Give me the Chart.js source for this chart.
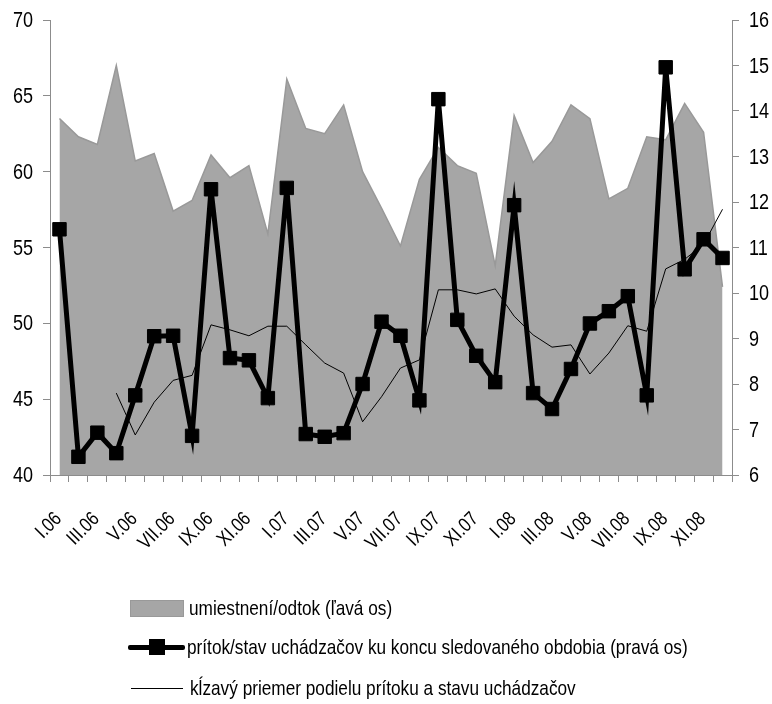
<!DOCTYPE html>
<html>
<head>
<meta charset="utf-8">
<script src="https://cdn.jsdelivr.net/npm/chart.js@4.4.1/dist/chart.umd.min.js"></script>
<style>
  html, body { margin: 0; padding: 0; background: #fff; }
  #wrap { position: relative; width: 772px; height: 704px; }
  #c { position: absolute; left: 0; top: 0; }
  .lg { position: absolute; font-family: 'Liberation Sans', Arial, sans-serif; font-size: 21px; color: #000; white-space: nowrap; line-height: 22px; transform: scaleX(0.82); transform-origin: 0 50%; }
  .sym { position: absolute; }
</style>
</head>
<body>
<div id="wrap">
  <canvas id="c" width="772" height="704"></canvas>
  <div class="sym" style="left:130px;top:600px;width:52px;height:15px;background:#a6a6a6;border:1px solid #999;"></div>
  <div class="lg" style="left:189px;top:597px;">umiestnení/odtok (ľavá os)</div>
  <div class="sym" style="left:128px;top:645px;width:57px;height:5px;background:#000;border-radius:2px;"></div>
  <div class="sym" style="left:149px;top:639px;width:16px;height:16px;background:#000;"></div>
  <div class="lg" style="left:187px;top:636px;">prítok/stav uchádzačov ku koncu sledovaného obdobia (pravá os)</div>
  <div class="sym" style="left:131px;top:688px;width:52px;height:1px;background:#000;"></div>
  <div class="lg" style="left:190px;top:677px;">kĺzavý priemer podielu prítoku a stavu uchádzačov</div>
</div>
<script>
const months = ['I.06','II.06','III.06','IV.06','V.06','VI.06','VII.06','VIII.06','IX.06','X.06','XI.06','XII.06',
                'I.07','II.07','III.07','IV.07','V.07','VI.07','VII.07','VIII.07','IX.07','X.07','XI.07','XII.07',
                'I.08','II.08','III.08','IV.08','V.08','VI.08','VII.08','VIII.08','IX.08','X.08','XI.08','XII.08'];
const placementOutflow = [63.5, 62.3, 61.8, 67.0, 60.7, 61.2, 57.4, 58.1, 61.1, 59.6, 60.4, 55.9,
                          66.1, 62.85, 62.5, 64.4, 60.0, 57.6, 55.1, 59.5, 61.6, 60.4, 59.9, 53.8,
                          63.7, 60.6, 62.0, 64.4, 63.5, 58.2, 58.9, 62.3, 62.1, 64.5, 62.6, 52.4];
const inflowStock = [11.40, 6.40, 6.93, 6.48, 7.75, 9.05, 9.06, 6.86, 12.28, 8.57, 8.52, 7.69,
                     12.31, 6.90, 6.84, 6.92, 8.00, 9.37, 9.06, 7.64, 14.26, 9.41, 8.62, 8.04,
                     11.93, 7.80, 7.45, 8.33, 9.33, 9.60, 9.93, 7.75, 14.96, 10.52, 11.18, 10.77];
const movingAverage = [null, null, null, 7.80, 6.88, 7.60, 8.08, 8.19, 9.30, 9.19, 9.06, 9.27,
                       9.27, 8.86, 8.46, 8.24, 7.17, 7.72, 8.35, 8.53, 10.07, 10.07, 9.98, 10.09,
                       9.49, 9.08, 8.81, 8.86, 8.22, 8.68, 9.28, 9.16, 10.53, 10.74, 11.07, 11.84];
const leftTicks = [40, 45, 50, 55, 60, 65, 70];
const rightTicks = [6, 7, 8, 9, 10, 11, 12, 13, 14, 15, 16];
const seriesNames = ['umiestnení/odtok (ľavá os)',
                     'prítok/stav uchádzačov ku koncu sledovaného obdobia (pravá os)',
                     'kĺzavý priemer podielu prítoku a stavu uchádzačov'];

const FONT = "'Liberation Sans', Arial, sans-serif";
const AXIS = '#8c8c8c';
const NARROW = 0.82;

// Draws tick labels in a condensed (Arial Narrow-like) style using the chart's own scales.
const narrowLabels = {
  id: 'narrowLabels',
  afterDraw(chart) {
    const ctx = chart.ctx;
    const put = (txt, x, y, align, rot, size) => {
      ctx.save();
      ctx.translate(x, y);
      if (rot) ctx.rotate(rot);
      ctx.scale(NARROW, 1);
      ctx.font = size + 'px ' + FONT;
      ctx.fillStyle = '#000';
      ctx.textAlign = align;
      ctx.textBaseline = 'middle';
      ctx.fillText(txt, 0, 0);
      ctx.restore();
    };
    const y = chart.scales.y, y2 = chart.scales.y2, x = chart.scales.x;
    y.ticks.forEach(t => put(String(t.value), y.right - 17, y.getPixelForValue(t.value) + 1, 'right', 0, 22));
    y2.ticks.forEach(t => put(String(t.value), y2.left + 17, y2.getPixelForValue(t.value) + 1, 'left', 0, 22));
    months.forEach((m, i) => {
      if (i % 2 !== 0) return;
      put(m, x.getPixelForValue(i) - 1, x.top + 41, 'right', -Math.PI / 4, 20);
    });
  }
};

new Chart(document.getElementById('c'), {
  type: 'line',
  data: {
    labels: months,
    datasets: [
      {
        label: seriesNames[2], data: movingAverage, yAxisID: 'y2',
        borderColor: '#000', borderWidth: 1, pointRadius: 0, tension: 0, fill: false, order: 2, spanGaps: false
      },
      {
        label: seriesNames[1], data: inflowStock, yAxisID: 'y2',
        borderColor: '#000', borderWidth: 5, pointStyle: 'rect', pointRadius: 9.5,
        pointBackgroundColor: '#000', pointBorderColor: '#000', pointBorderWidth: 1,
        tension: 0, fill: false, order: 1
      },
      {
        label: seriesNames[0], data: placementOutflow, yAxisID: 'y',
        borderColor: '#999999', borderWidth: 1.5, backgroundColor: '#a6a6a6',
        pointRadius: 0, tension: 0, fill: 'start', order: 3
      }
    ]
  },
  plugins: [narrowLabels],
  options: {
    responsive: false,
    animation: false,
    events: [],
    layout: { padding: { top: 20, left: 0, right: 0, bottom: 0 } },
    plugins: { legend: { display: false }, tooltip: { enabled: false } },
    scales: {
      x: {
        type: 'category', offset: true,
        grid: { display: true, drawOnChartArea: false, drawTicks: true, tickLength: 7, color: AXIS, offset: true },
        border: { display: true, color: AXIS, width: 1 },
        ticks: { display: false, autoSkip: false },
        afterFit: function(s) { s.height = 704 - 475; }
      },
      y: {
        position: 'left', min: 40, max: 70,
        afterBuildTicks: function(s) { s.ticks = leftTicks.map(v => ({ value: v })); },
        grid: { drawOnChartArea: false, drawTicks: true, tickLength: 7, color: AXIS },
        border: { display: true, color: AXIS, width: 1 },
        ticks: { display: false },
        afterFit: function(s) { s.width = 50; }
      },
      y2: {
        position: 'right', min: 6, max: 16,
        afterBuildTicks: function(s) { s.ticks = rightTicks.map(v => ({ value: v })); },
        grid: { drawOnChartArea: false, drawTicks: true, tickLength: 7, color: AXIS },
        border: { display: true, color: AXIS, width: 1 },
        ticks: { display: false },
        afterFit: function(s) { s.width = 40; }
      }
    }
  }
});
</script>
</body>
</html>
